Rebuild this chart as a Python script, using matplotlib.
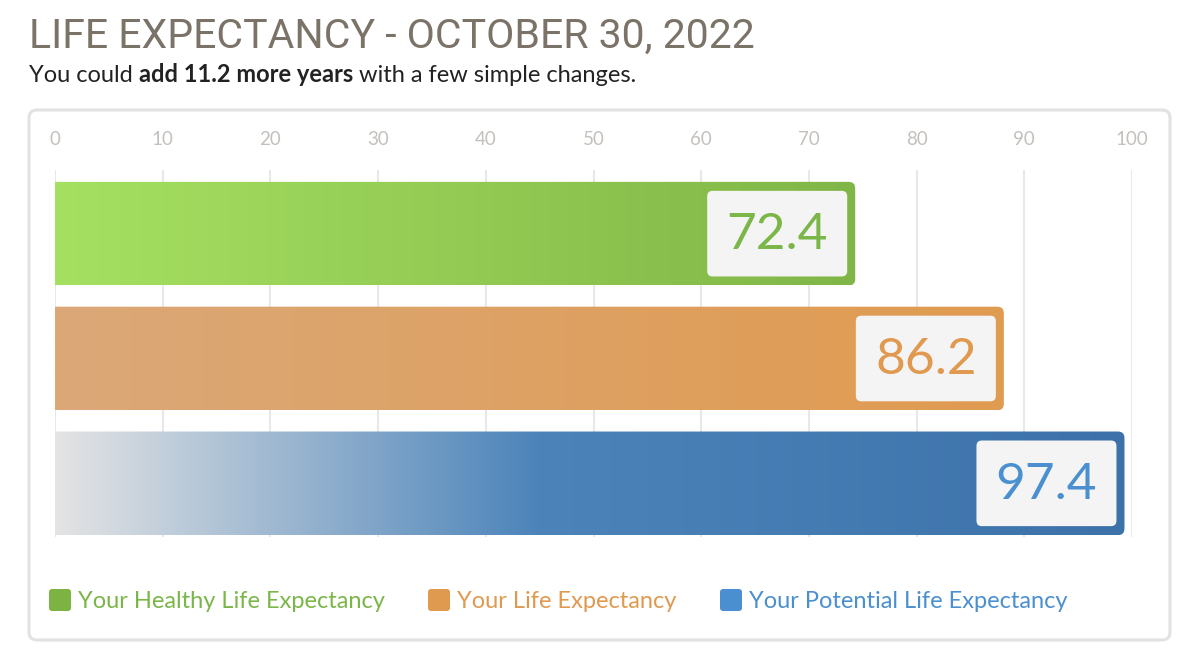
import matplotlib.pyplot as plt
import matplotlib as mpl
import numpy as np
from matplotlib.patches import FancyBboxPatch
from matplotlib.colors import LinearSegmentedColormap

# data
labels = ['Your Healthy Life Expectancy', 'Your Life Expectancy', 'Your Potential Life Expectancy']
values = [72.4, 86.2, 97.4]
ticks = list(range(0, 101, 10))
title = 'LIFE EXPECTANCY - OCTOBER 30, 2022'
sub_parts = ['You could ', 'add 11.2 more years', ' with a few simple changes.']

# styles
grad_stops = [
    [(0.0, '#a6e061'), (1.0, '#80b647')],
    [(0.0, '#dba878'), (1.0, '#e09b50')],
    [(0.0, '#e4e4e4'), (0.45, '#4c84ba'), (1.0, '#3c72a9')],
]
square_cols = ['#7db343', '#df9a50', '#4a8fcf']
text_cols = ['#7ab648', '#e0994f', '#4a8fcf']
legend_x = [49, 428, 720]

W, H = 1200, 666
mpl.rcParams['font.family'] = ['Lato', 'DejaVu Sans']

fig = plt.figure(figsize=(W / 100, H / 100), dpi=100)

# canvas axes in pixel units for panel, title and legend
cv = fig.add_axes([0, 0, 1, 1], zorder=0)
cv.set_xlim(0, W)
cv.set_ylim(H, 0)
cv.axis('off')

cv.add_patch(FancyBboxPatch((29, 110), 1141, 530, boxstyle='round,pad=0,rounding_size=8',
                            fc='white', ec='#e2e2e2', lw=2.2))

cv.text(29, 48, title, fontsize=29.5, color='#7b7367', va='baseline', ha='left',
        family=['Liberation Sans Narrow', 'Roboto', 'DejaVu Sans'])

t = cv.text(29, 82, sub_parts[0], fontsize=17, color='#222222', va='baseline')
t = cv.annotate(sub_parts[1], xy=(1, 0), xycoords=t, va='bottom', fontsize=17,
                fontweight='bold', color='#222222')
cv.annotate(sub_parts[2], xy=(1, 0), xycoords=t, va='bottom', fontsize=17, color='#222222')

for lx, lab, sc, tc in zip(legend_x, labels, square_cols, text_cols):
    cv.add_patch(FancyBboxPatch((lx, 589), 22, 22, boxstyle='round,pad=0,rounding_size=3',
                                fc=sc, ec='none'))
    cv.text(lx + 29, 601, lab, fontsize=17, color=tc, va='center', ha='left')

# chart axes
top, bot = 170, 537
ax = fig.add_axes([55 / W, (H - bot) / H, (1132 - 55) / W, (bot - top) / H], zorder=1)
ax.patch.set_alpha(0)
y0, y1 = -0.51, 2.43
pxx = (1132 - 55) / 100
pxy = (bot - top) / (y1 - y0)
aspect = pxx / pxy
bh = 0.83
pad = 1.9

for i, v in enumerate(values):
    end = v + pad
    cmap = LinearSegmentedColormap.from_list('g%d' % i, grad_stops[i])
    grad = cmap(np.linspace(0, 1, 256))[None, :, :]
    shape = FancyBboxPatch((-2, i - bh / 2), end + 2, bh,
                           boxstyle='round,pad=0,rounding_size=0.6',
                           mutation_aspect=aspect, fc='none', ec='none')
    ax.add_patch(shape)
    im = ax.imshow(grad, extent=[0, end, i + bh / 2, i - bh / 2], aspect='auto',
                   interpolation='bilinear', zorder=2)
    im.set_clip_path(shape)
    bw = 140 / pxx
    bx = end - 8 / pxx - bw
    bhh = bh - 2 * 9 / pxy
    ax.add_patch(FancyBboxPatch((bx, i - bhh / 2), bw, bhh,
                                boxstyle='round,pad=0,rounding_size=0.5',
                                mutation_aspect=aspect, fc='#f4f4f4', ec='none', zorder=3))
    ax.text(bx + bw / 2, i + 0.01, f'{v:.1f}', fontsize=37, color=text_cols[i],
            ha='center', va='center', zorder=4)

ax.set_xlim(0, 100)
ax.set_ylim(y1, y0)
ax.set_xticks(ticks)
ax.set_yticks([])
ax.xaxis.tick_top()
ax.tick_params(axis='x', length=0, pad=16, labelsize=13.5, labelcolor='#c4c0bc')
ax.grid(axis='x', color='#e8e8e8', lw=1.5, zorder=0)
ax.set_axisbelow(True)
for s in ax.spines.values():
    s.set_visible(False)

plt.savefig('out.png', dpi=100)
